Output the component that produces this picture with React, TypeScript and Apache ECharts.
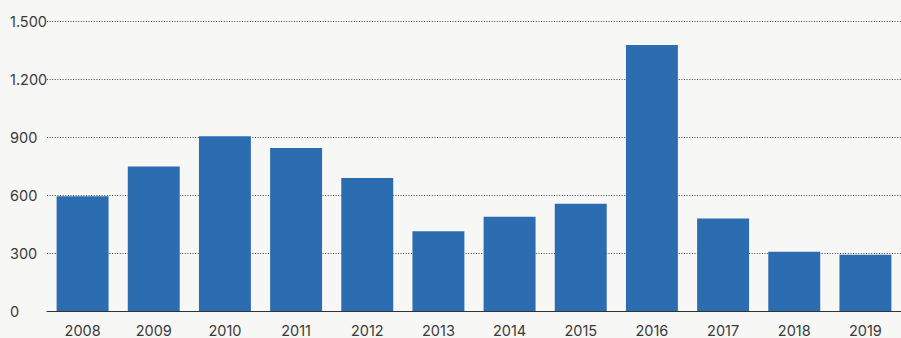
import React, { useEffect, useRef } from "react";
import * as echarts from "echarts";

const years = ["2008", "2009", "2010", "2011", "2012", "2013", "2014", "2015", "2016", "2017", "2018", "2019"];
const values = [594, 748, 904, 843, 688, 412, 488, 555, 1376, 478, 306, 291];
const yTicks = [0, 300, 600, 900, 1200, 1500];

const fmt = (v: number) => String(v).replace(/\B(?=(\d{3})+(?!\d))/g, ".");

export default function App() {
  const ref = useRef<HTMLDivElement>(null);
  useEffect(() => {
    if (!ref.current) return;
    const chart = echarts.init(ref.current, null, { renderer: "svg" });
    chart.setOption({
      animation: false,
      backgroundColor: "#f7f7f6",
      grid: { left: 47, top: 21, width: 860, height: 293.5, containLabel: false },
      xAxis: {
        type: "category",
        data: years,
        axisLine: { show: true, lineStyle: { color: "#333", width: 1.2 } },
        axisTick: { show: false },
        axisLabel: { color: "#3a3a3a", fontFamily: "Inter", fontSize: 14.5, margin: 12 },
      },
      yAxis: {
        type: "value",
        min: yTicks[0],
        max: yTicks[yTicks.length - 1],
        interval: 300,
        axisLine: { show: false },
        axisTick: { show: false },
        splitLine: { show: true, lineStyle: { color: "#444", type: [1, 1.6], width: 1 } },
        axisLabel: {
          color: "#3a3a3a",
          fontFamily: "Inter",
          fontSize: 14.5,
          align: "left",
          margin: 37,
          formatter: (v: number) => fmt(v),
        },
      },
      series: [
        {
          type: "bar",
          data: values,
          barCategoryGap: "27%",
          itemStyle: { color: "#2c6db2" },
        },
      ],
    });
    return () => chart.dispose();
  }, []);
  return <div ref={ref} style={{ position: "fixed", left: 0, top: 0, width: 901, height: 338 }} />;
}
